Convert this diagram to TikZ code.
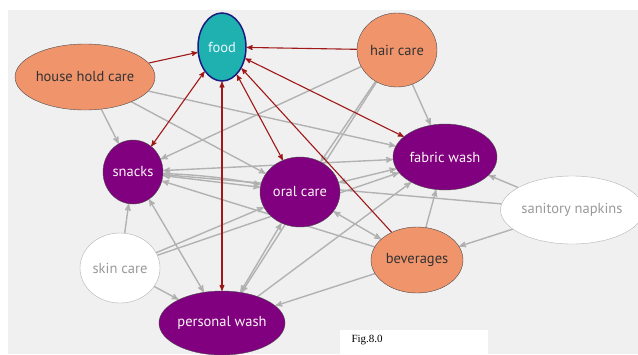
\documentclass[tikz,border=0pt]{standalone}
\usepackage{fontspec}
\setmainfont{PT Sans}
\usepackage{tikz}
\usetikzlibrary{arrows,shapes.geometric}

\definecolor{bgrey}{HTML}{F0F0F0}
\definecolor{salmon}{HTML}{F0946C}
\definecolor{plum}{HTML}{800080}
\definecolor{tealf}{HTML}{1FB1B0}
\definecolor{navy}{HTML}{1A1A80}
\definecolor{redline}{HTML}{A01818}
\definecolor{greyline}{HTML}{B2B2B2}

\pgfdeclarelayer{back}
\pgfdeclarelayer{links}
\pgfsetlayers{back,links,main}

\begin{document}
\begin{tikzpicture}[x=1pt,y=-1pt,->,>=stealth',semithick,
                    every node/.style={font=\fontsize{14.5}{16}\selectfont}]
  \tikzstyle{blob}=[ellipse,inner sep=0pt]
  \tikzstyle{brand}=[blob,fill=salmon,draw=black!70,text=black!80]
  \tikzstyle{grp}=[blob,fill=plum,draw=black!70,text=white!85!pink]
  \tikzstyle{faint}=[blob,fill=white,draw=greyline,text=black!40]
  \tikzstyle{strong}=[draw=redline,line width=1.1pt]
  \tikzstyle{weak}=[draw=greyline,line width=1.4pt]

  \useasboundingbox (0,0) rectangle (638,354);
  \begin{pgfonlayer}{back}
    \fill[white] (0,0) rectangle (638,354);
    \fill[bgrey] (8,10) rectangle (638,354);
  \end{pgfonlayer}

  \node[blob,fill=tealf,draw=navy,line width=1.5pt,text=white!90!cyan,
        minimum width=48pt,minimum height=68pt] (food) at (222,47) {food};
  \node[brand,minimum width=140pt,minimum height=66pt] (hh) at (85,77) {house hold care};
  \node[brand,minimum width=80pt,minimum height=74pt] (hair) at (397,50) {hair care};
  \node[grp,minimum width=60pt,minimum height=64pt] (snacks) at (133,172) {snacks};
  \node[grp,minimum width=80pt,minimum height=70pt] (oral) at (300,192) {oral care};
  \node[grp,minimum width=104pt,minimum height=66pt] (fabric) at (445,157) {fabric wash};
  \node[faint,minimum width=140pt,minimum height=68pt] (san) at (572,210) {sanitory napkins};
  \node[faint,minimum width=80pt,minimum height=70pt] (skin) at (120,268) {skin care};
  \node[brand,minimum width=92pt,minimum height=66pt] (bev) at (417,260) {beverages};
  \node[grp,minimum width=124pt,minimum height=64pt] (pw) at (222,323) {personal wash};

  \fill[white] (340,330) rectangle (488,354);
  \node[font=\fontspec{Liberation Serif}\fontsize{11}{12}\selectfont,anchor=west]
    (fig) at (348,340) {Fig.8.0};

  \begin{pgfonlayer}{links}
  % grey links first, so the red ones lie on top
  \path[weak]
(hh) edge (snacks)
(hh) edge (oral)
(hh) edge (fabric)
(hair) edge (snacks)
(hair) edge (fabric)
(hair) edge (oral)
(hair) edge (pw)
(snacks) edge [<->] (oral)
(snacks) edge [<->,bend left=4] (oral)
(snacks) edge [<->] (fabric)
(snacks) edge [<->] (pw)
(skin) edge (snacks)
(skin) edge (oral)
(skin) edge (fabric)
(skin) edge (pw)
(oral) edge [<->] (pw)
(oral) edge [<->] (fabric)
(oral) edge [<->] (bev)
(bev) edge (fabric)
(bev) edge (pw)
(bev) edge (snacks)
(san) edge (fabric)
(san) edge (bev)
(san) edge (snacks)
(pw) edge (fabric)
;

  \path[strong]
(hh) edge (food)
(hair) edge (food)
(food) edge [<->] (snacks)
(food) edge [<->] (oral)
(food) edge [<->] (pw)
(food) edge [<->] (fabric)
(bev) edge (food)
;
  \end{pgfonlayer}

\end{tikzpicture}
\end{document}
